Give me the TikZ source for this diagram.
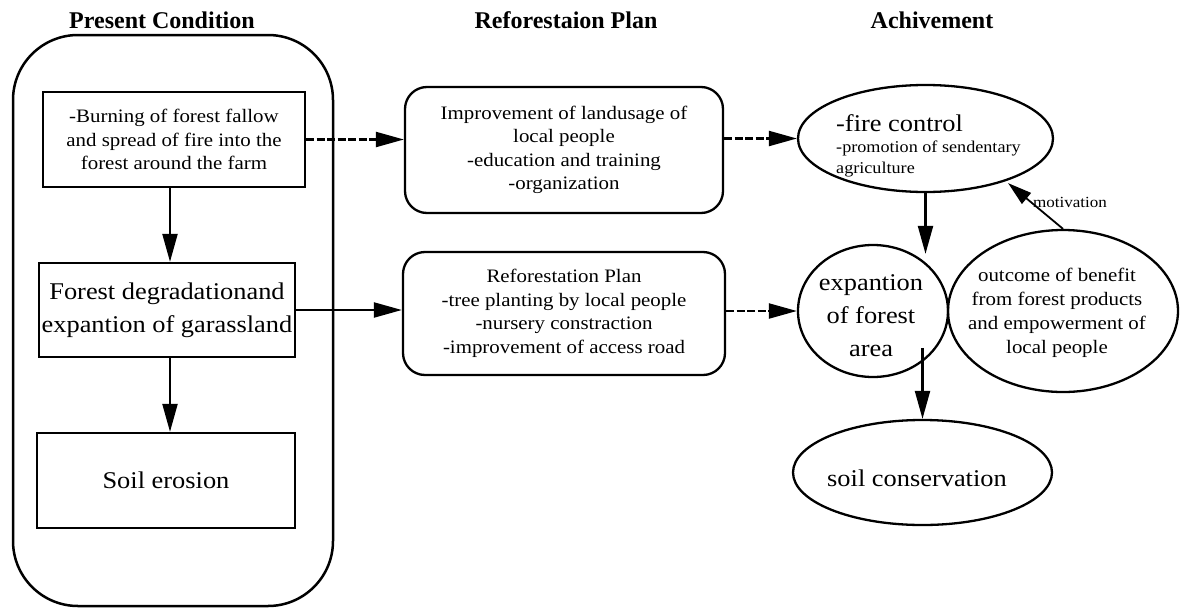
\documentclass[tikz,border=0pt]{standalone}
\usepackage{fontspec}
\setmainfont{Liberation Serif}[FakeStretch=1.1]
\newfontfamily\titlefont{Liberation Serif}
\usetikzlibrary{arrows.meta,shapes.geometric}
\tikzset{
  box/.style={draw, line width=2.3pt, inner sep=0pt, align=center},
  rbox/.style={box, rounded corners=22pt},
  ell/.style={draw, ellipse, line width=2.3pt, inner sep=0pt},
  arr/.style={line width=2.2pt, -{Triangle[length=28pt,width=15pt]}},
  dsh/.style={dash pattern=on 8pt off 2.5pt},
  ttl/.style={font=\titlefont\bfseries\fontsize{24}{28}\selectfont, anchor=base},
  bodyf/.style={font=\fontsize{19}{23.5}\selectfont},
  bigf/.style={font=\fontsize{24}{33}\selectfont},
  smallf/.style={font=\fontsize{16.5}{21}\selectfont},
}
\begin{document}
\begin{tikzpicture}[x=1pt,y=-1pt]
\useasboundingbox (0,0) rectangle (1187,616);
% titles
\node[ttl] (t1) at (162,28) {Present Condition};
\node[ttl] (t2) at (566,28) {Reforestaion Plan};
\node[ttl] (t3) at (932,28) {Achivement};
% left column
\node[draw, line width=2.5pt, rounded corners=65pt, minimum width=320pt, minimum height=571pt, inner sep=0pt] (frame) at (173,320.5) {};
\node[box, bodyf, minimum width=262pt, minimum height=95pt] (box1) at (174,139.5)
  {-Burning of forest fallow\\and spread of fire into the\\forest around the farm};
\node[box, bigf, minimum width=256pt, minimum height=94pt] (box2) at (167,310)
  {Forest degradationand\\expantion of garassland};
\node[box, bigf, minimum width=258pt, minimum height=95pt] (box3) at (166,480.5)
  {Soil erosion};
\coordinate (colx) at (170,0);
\draw[arr] (box1.south -| colx) -- (box2.north -| colx);
\draw[arr] (box2.south -| colx) -- (box3.north -| colx);
% middle column
\node[rbox, bodyf, minimum width=318pt, minimum height=126pt] (plan1) at (564,150)
  {Improvement of landusage of\\local people\\-education and training\\-organization};
\node[rbox, bodyf, minimum width=322pt, minimum height=123pt] (plan2) at (564,313.5)
  {Reforestation Plan\\-tree planting by local people\\-nursery constraction\\-improvement of access road};
% right column
\node[ell, minimum width=255pt, minimum height=107pt] (fire) at (925.5,138.5) {};
\node[align=left, anchor=west, inner sep=0pt, smallf] (fireT) at (836,146)
  {{\fontsize{24}{24}\selectfont -fire control}\\-promotion of sendentary\\agriculture};
\node[ell, minimum width=150pt, minimum height=132pt] (exp) at (873,311) {};
\node[align=center, inner sep=0pt, bigf] (expT) at (871,316) {expantion\\of forest\\area};
\node[ell, minimum width=230pt, minimum height=162pt] (outc) at (1063,311) {};
\node[align=center, inner sep=0pt, font=\fontsize{19}{24}\selectfont] (outcT) at (1057,313)
  {outcome of benefit\\from forest products\\and empowerment of\\local people};
\node[ell, minimum width=259pt, minimum height=105pt] (soil) at (922.5,472.5) {};
\node[inner sep=0pt, bigf] (soilT) at (917,478) {soil conservation};
% connectors
\draw[arr, dsh] (box1.east) -- (box1.east -| plan1.west);
\draw[arr] (box2.east) -- (box2.east -| plan2.west);
\draw[arr, dsh] (plan1.east |- fire.west) -- (fire.west);
\draw[arr, dsh] (plan2.east |- exp.west) -- (exp.west);
\draw[arr] (fire.south) -- (fire.south |- exp.55);
\draw[arr] (soil.north |- exp.-30) -- (soil.north);
\draw[line width=1.8pt, -{Triangle[length=24pt,width=14pt]}, shorten >=3pt] (outc.north) -- (fire.-28);
\node[font=\fontsize{15.5}{18}\selectfont, inner sep=0pt] (motiv) at (1070,202) {motivation};
\end{tikzpicture}
\end{document}
